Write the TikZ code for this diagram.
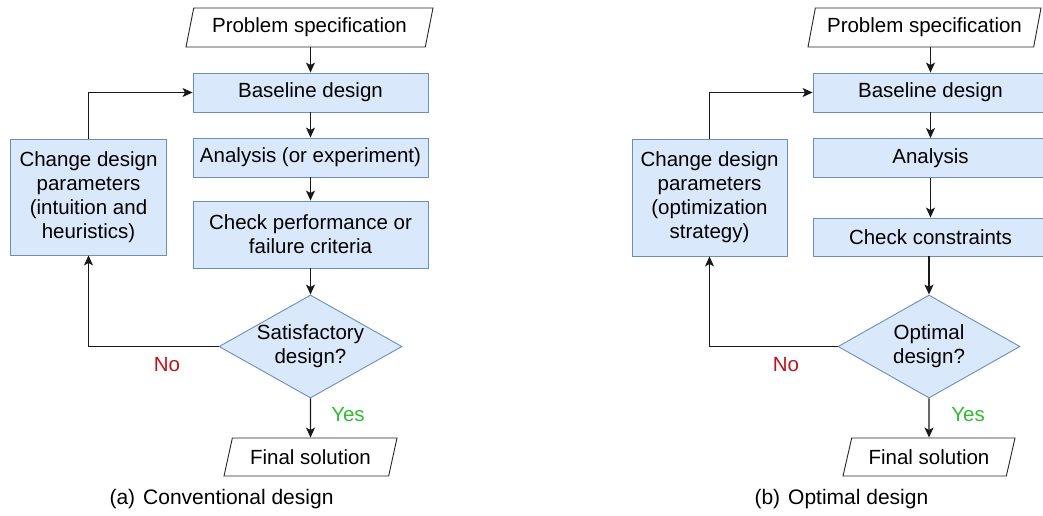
\documentclass[tikz,border=0pt]{standalone}
\usepackage{fontspec}
\setmainfont{Liberation Sans}
\usetikzlibrary{shapes.geometric,arrows.meta}
\definecolor{boxfill}{HTML}{DAE8FC}
\definecolor{boxline}{HTML}{6C8EBF}
\definecolor{nored}{HTML}{C0141C}
\definecolor{yesgreen}{HTML}{33BB33}
\begin{document}
\begin{tikzpicture}[x=1pt,y=-1pt,
  font=\fontsize{20.5}{24}\selectfont,
  procbox/.style={rectangle, draw=boxline, fill=boxfill, line width=0.9pt, inner sep=0pt, align=center},
  iobox/.style={trapezium, trapezium stretches body, draw=black!85, fill=white, line width=0.9pt, inner sep=0pt},
  decbox/.style={diamond, draw=boxline, fill=boxfill, line width=0.9pt, inner sep=0pt},
  conn/.style={line width=1.1pt, draw=black!90, -{Stealth[length=10pt,width=9pt,inset=2.5pt]}},
  nolab/.style={text=nored},
  yeslab/.style={text=yesgreen},
  caplab/.style={anchor=west, font=\fontsize{21}{24}\selectfont}]
\clip (0,0) rectangle (1043,515);
\fill[white] (0,0) rectangle (1043,515);
% ---------- (a) Conventional design ----------
\node[iobox, trapezium left angle=68, trapezium right angle=112, minimum width=247pt, minimum height=39pt] (ps1) at (309.5,27.5) {Problem specification};
\node[procbox, minimum width=235pt, minimum height=39pt] (bd1) at (310.5,92.5) {Baseline design};
\node[procbox, minimum width=235pt, minimum height=39pt] (an1) at (310.5,157.5) {Analysis (or experiment)};
\node[procbox, minimum width=235pt, minimum height=67pt] (ck1) at (310.5,234.5) {Check performance or\\failure criteria};
\node[procbox, minimum width=156pt, minimum height=116pt] (ch1) at (88.5,197) {Change design\\parameters\\(intuition and\\heuristics)};
\node[decbox, minimum width=183pt, minimum height=103pt, label={[align=center]center:Satisfactory\\design?}] (dm1) at (310.5,346.5) {};
\node[iobox, trapezium left angle=61, trapezium right angle=119, minimum width=173pt, minimum height=38pt] (fs1) at (310.5,457) {Final solution};
\node[nolab] (no1) at (167,365) {No};
\node[yeslab] (yes1) at (348,415) {Yes};
\node[caplab] (capa) at (106,499) {(a)\hspace{8pt}Conventional design};
\draw[conn] (ps1.south -| bd1.north) -- (bd1.north);
\draw[conn] (bd1) -- (an1);
\draw[conn] (an1) -- (ck1);
\draw[conn] (ck1) -- (dm1);
\draw[conn] (dm1) -- (fs1);
\draw[conn] (dm1.west) -| (ch1.south);
\draw[conn] (ch1.north) |- (bd1.west);
% ---------- (b) Optimal design ----------
\node[iobox, trapezium left angle=69, trapezium right angle=111, minimum width=233pt, minimum height=39pt] (ps2) at (924.5,27.5) {Problem specification};
\node[procbox, minimum width=235pt, minimum height=39pt] (bd2) at (930.5,92.5) {Baseline design};
\node[procbox, minimum width=235pt, minimum height=39pt] (an2) at (930.5,158) {Analysis};
\node[procbox, minimum width=235pt, minimum height=38pt] (ck2) at (930.5,237) {Check constraints};
\node[procbox, minimum width=155pt, minimum height=117pt] (ch2) at (709.5,197.5) {Change design\\parameters\\(optimization\\strategy)};
\node[decbox, minimum width=182pt, minimum height=103pt, label={[align=center]center:Optimal\\design?}] (dm2) at (929,346.5) {};
\node[iobox, trapezium left angle=60, trapezium right angle=120, minimum width=172pt, minimum height=38pt] (fs2) at (929,457) {Final solution};
\node[nolab] (no2) at (786,365) {No};
\node[yeslab] (yes2) at (968,415) {Yes};
\node[caplab] (capb) at (751,499) {(b)\hspace{8pt}Optimal design};
\draw[conn] (ps2.south -| bd2.north) -- (bd2.north);
\draw[conn] (bd2) -- (an2);
\draw[conn] (an2) -- (ck2);
\draw[conn] (ck2.south -| dm2.north) -- (dm2.north);
\draw[conn] (dm2) -- (fs2);
\draw[conn] (dm2.west) -| (ch2.south);
\draw[conn] (ch2.north) |- (bd2.west);
\end{tikzpicture}
\end{document}
